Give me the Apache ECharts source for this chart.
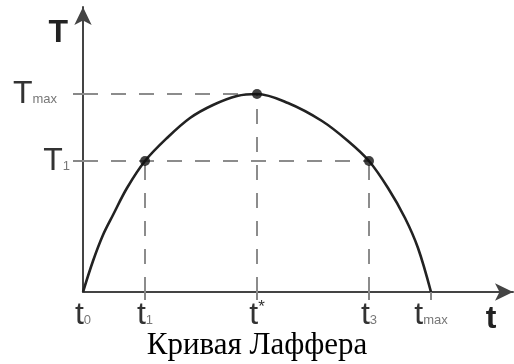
<!DOCTYPE html>
<html>
<head>
<meta charset="utf-8">
<script src="https://cdn.jsdelivr.net/npm/echarts@6/dist/echarts.min.js"></script>
<style>html,body{margin:0;padding:0;background:#fff}#c{width:514px;height:364px}</style>
</head>
<body>
<div id="c"></div>
<script>
// Curve (tax rate t -> revenue T)
const curveX = [0, 10, 20, 30, 44, 62, 84, 107, 130, 154, 174, 205, 239, 265, 286, 305, 322, 335, 348];
const curveY = [0, 31, 57, 77, 104, 131, 154, 174, 187, 196, 198, 189, 171, 151, 131, 104, 74, 44, 0];
// Marked points
const pointX = [62, 174, 286];
const pointY = [131, 198, 131];
// X tick labels
const xTicks = [0, 62, 174, 286, 348];
const xTickMain = ['t', 't', 't', 't', 't'];
const xTickSub = ['0', '1', '*', '3', 'max'];
// Y tick labels
const yTicks = [131, 198];
const yTickMain = ['T', 'T'];
const yTickSub = ['1', 'max'];
const xName = 't';
const yName = 'T';
const titleText = 'Кривая Лаффера';
const xMax = 430, yMax = 285;

const chart = echarts.init(document.getElementById('c'), null, {renderer: 'canvas'});
const guideStyle = {color: '#8c8c8c', width: 2, type: [15, 13]};
const series = [];
// vertical guides
pointX.forEach((x, i) => {
  series.push({type: 'line', data: [[x, 0], [x, pointY[i]]], symbol: 'none', silent: true,
    lineStyle: guideStyle, z: 1, animation: false});
});
// horizontal guides
yTicks.forEach(y => {
  const xs = pointX.filter((x, i) => pointY[i] === y);
  const xEnd = Math.max.apply(null, xs);
  series.push({type: 'line', data: [[0, y], [xEnd, y]], symbol: 'none', silent: true,
    lineStyle: guideStyle, z: 1, animation: false});
});
series.push({type: 'line', data: curveX.map((x, i) => [x, curveY[i]]), smooth: 0.35, symbol: 'none',
  lineStyle: {color: '#222', width: 2.6}, z: 3, animation: false});
series.push({type: 'scatter', data: pointX.map((x, i) => [x, pointY[i]]), symbolSize: 10,
  itemStyle: {color: '#111'}, z: 4, animation: false});

const sans = 'Liberation Sans';
chart.setOption({
  backgroundColor: '#fff',
  animation: false,
  title: {text: titleText, left: 'center', top: 325,
    textStyle: {fontFamily: 'Liberation Serif', fontSize: 31, fontWeight: 'normal', color: '#000'}},
  grid: {left: 83, right: 1, top: 7, bottom: 72},
  xAxis: {
    type: 'value', min: 0, max: xMax,
    splitLine: {show: false},
    name: xName, nameLocation: 'end', nameGap: -22,
    nameTextStyle: {fontFamily: sans, fontSize: 32, fontWeight: 'bold', color: '#222',
      align: 'center', verticalAlign: 'top', padding: [11, 0, 0, 0]},
    axisLine: {lineStyle: {color: '#444', width: 2}, symbol: ['none', 'arrow'], symbolSize: [13, 18]},
    axisTick: {show: true, customValues: xTicks.slice(1), length: 8, lineStyle: {color: '#888', width: 2}},
    axisLabel: {
      customValues: xTicks, margin: 7, showMinLabel: true, showMaxLabel: true,
      formatter: v => {
        const i = xTicks.indexOf(v);
        if (i < 0) return '';
        const sub = xTickSub[i];
        return '{m|' + xTickMain[i] + '}' + (sub === '*' ? '{sup|*}' : '{s|' + sub + '}');
      },
      rich: {
        m: {fontFamily: sans, fontSize: 32, color: '#333', verticalAlign: 'bottom', lineHeight: 32},
        s: {fontFamily: sans, fontSize: 13, color: '#777', verticalAlign: 'bottom', lineHeight: 13, padding: [0, 0, 4, 0]},
        sup: {fontFamily: sans, fontSize: 17, color: '#333', verticalAlign: 'top', lineHeight: 17}
      }
    }
  },
  yAxis: {
    type: 'value', min: 0, max: yMax,
    splitLine: {show: false},
    name: yName, nameLocation: 'end', nameGap: -10,
    nameTextStyle: {fontFamily: sans, fontSize: 32, fontWeight: 'bold', color: '#222',
      align: 'right', verticalAlign: 'top', padding: [0, 15, 0, 0]},
    axisLine: {show: true, lineStyle: {color: '#444', width: 2}, symbol: ['none', 'arrow'], symbolSize: [13, 18]},
    axisTick: {show: true, customValues: yTicks, length: 10, lineStyle: {color: '#888', width: 2}},
    axisLabel: {
      customValues: yTicks, margin: 13,
      formatter: v => {
        const i = yTicks.indexOf(v);
        if (i < 0) return '';
        return '{m|' + yTickMain[i] + '}{s|' + yTickSub[i] + '}' + (yTickSub[i] === 'max' ? '{gap|}' : '');
      },
      rich: {
        m: {fontFamily: sans, fontSize: 32, color: '#333', verticalAlign: 'bottom', lineHeight: 32},
        s: {fontFamily: sans, fontSize: 13, color: '#777', verticalAlign: 'bottom', lineHeight: 13, padding: [0, 0, 4, 0]},
        gap: {width: 13}
      }
    }
  },
  series: series
});
</script>
</body>
</html>
